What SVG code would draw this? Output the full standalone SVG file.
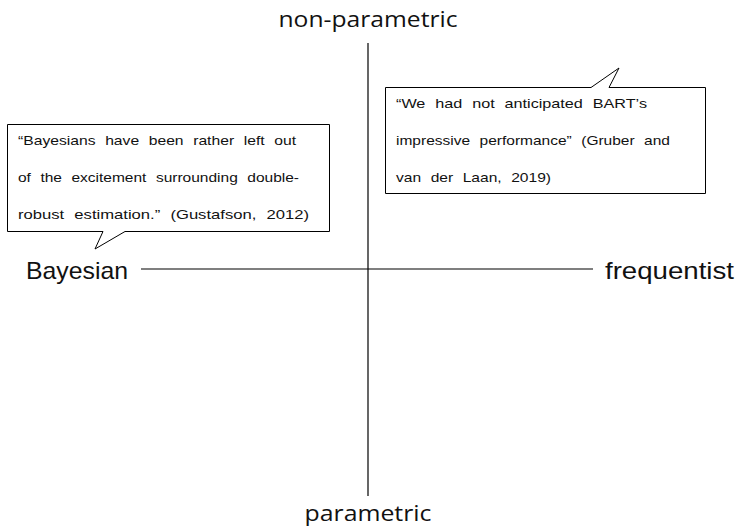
<svg xmlns="http://www.w3.org/2000/svg" width="736" height="529" viewBox="0 0 736 529">
  <style>
    .axis { stroke: #000; stroke-width: 1.2; fill: none; }
    .bubble { fill: #fff; stroke: #000; stroke-width: 1; }
    .pole { font-family: "Open Sans", "Liberation Sans", sans-serif; font-size: 22px; fill: #111; }
    .side { font-family: "Liberation Sans", "DejaVu Sans", sans-serif; font-size: 24px; fill: #111; }
    .quote { font-family: "Liberation Sans", "DejaVu Sans", sans-serif; font-size: 13.5px; word-spacing: 4.5px; fill: #111; }
  </style>
  <rect width="736" height="529" fill="#fff"/>

  <!-- axes -->
  <g id="axes">
    <line class="axis" x1="368" y1="43" x2="368" y2="496"/>
    <line class="axis" x1="141" y1="269" x2="593" y2="269"/>
  </g>

  <!-- axis pole labels -->
  <g id="label-nonparametric">
    <text class="pole" x="368" y="27" text-anchor="middle" textLength="179" lengthAdjust="spacingAndGlyphs">non-parametric</text>
  </g>
  <g id="label-parametric">
    <text class="pole" x="368" y="521" text-anchor="middle" textLength="127" lengthAdjust="spacingAndGlyphs">parametric</text>
  </g>
  <g id="label-bayesian">
    <text class="side" x="26" y="279" textLength="102" lengthAdjust="spacingAndGlyphs">Bayesian</text>
  </g>
  <g id="label-frequentist">
    <text class="side" x="605" y="279" textLength="129" lengthAdjust="spacingAndGlyphs">frequentist</text>
  </g>

  <!-- speech bubble: Gustafson quote -->
  <g id="bubble-gustafson">
    <path class="bubble" d="M7.5,124.5 H329.5 V231.5 H125 L95,249 L103,231.5 H7.5 Z"/>
    <text class="quote" x="18" y="145" textLength="278" lengthAdjust="spacingAndGlyphs">“Bayesians have been rather left out</text>
    <text class="quote" x="18" y="182" textLength="281" lengthAdjust="spacingAndGlyphs">of the excitement surrounding double-</text>
    <text class="quote" x="18" y="219" textLength="291" lengthAdjust="spacingAndGlyphs">robust estimation.” (Gustafson, 2012)</text>
  </g>

  <!-- speech bubble: Gruber and van der Laan quote -->
  <g id="bubble-gruber">
    <path class="bubble" d="M385.5,87.5 H591 L619,68 L609,87.5 H705.5 V193.5 H385.5 Z"/>
    <text class="quote" x="396" y="108" textLength="251" lengthAdjust="spacingAndGlyphs">“We had not anticipated BART’s</text>
    <text class="quote" x="396" y="145" textLength="274" lengthAdjust="spacingAndGlyphs">impressive performance” (Gruber and</text>
    <text class="quote" x="396" y="182" textLength="155" lengthAdjust="spacingAndGlyphs">van der Laan, 2019)</text>
  </g>
</svg>
